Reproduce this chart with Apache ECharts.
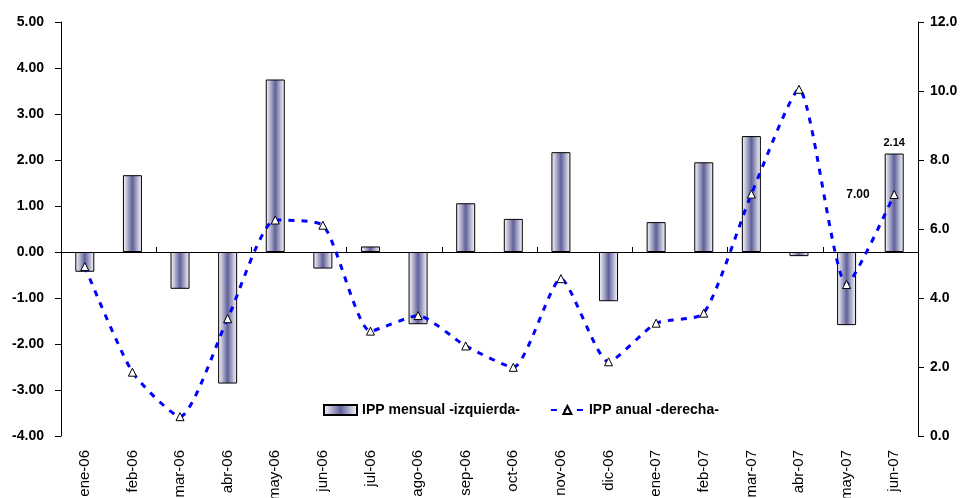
<!DOCTYPE html>
<html><head><meta charset="utf-8">
<script src="https://cdn.jsdelivr.net/npm/echarts@6/dist/echarts.min.js"></script>
<style>html,body{margin:0;padding:0;background:#fff}#c{width:962px;height:498px}</style>
</head><body><div id="c"></div>
<script>
const categories = ['ene-06','feb-06','mar-06','abr-06','may-06','jun-06','jul-06','ago-06','sep-06','oct-06','nov-06','dic-06','ene-07','feb-07','mar-07','abr-07','may-07','jun-07'];
const mensual = [-0.43,1.67,-0.80,-2.86,3.75,-0.36,0.12,-1.57,1.06,0.72,2.17,-1.07,0.65,1.95,2.52,-0.09,-1.59,2.14];
const anual = [4.91,1.85,0.56,3.40,6.26,6.11,3.04,3.49,2.61,1.99,4.56,2.15,3.27,3.56,7.01,10.05,4.39,7.00];
const leftTicks = {min:-4, max:5, interval:1};
const rightTicks = {min:0, max:12, interval:2};

const font = '"Liberation Sans", Arial, sans-serif';
const grad = new echarts.graphic.LinearGradient(0,0,1,0,[
  {offset:0,color:'#ffffff'},{offset:0.5,color:'#60609a'},{offset:1,color:'#ffffff'}]);
const chart = echarts.init(document.getElementById('c'));
const n = categories.length;
chart.setOption({
  animation:false,
  grid:{left:61,right:44,top:22,bottom:62,containLabel:false,outerBoundsMode:'none'},
  legend:{
    left:318, top:398, itemGap:30, itemWidth:33, itemHeight:10,
    textStyle:{fontFamily:font,fontWeight:'bold',fontSize:14,color:'#000'},
    data:[
      {name:'IPP mensual -izquierda-', icon:'rect'},
      {name:'IPP anual -derecha-'}
    ]
  },
  xAxis:[
    {type:'category', data:categories, position:'bottom',
     axisLine:{show:false}, axisTick:{show:false},
     axisLabel:{rotate:90, margin:14, fontFamily:font, fontSize:15, color:'#000'}},
    {type:'category', data:categories, position:'bottom',
     axisLine:{onZero:true, onZeroAxisIndex:0, lineStyle:{color:'#000',width:1}},
     axisTick:{show:true, inside:true, length:5, lineStyle:{color:'#000'}},
     axisLabel:{show:false}}
  ],
  yAxis:[
    {type:'value', min:leftTicks.min, max:leftTicks.max, interval:leftTicks.interval,
     splitLine:{show:false},
     axisLine:{show:true, lineStyle:{color:'#000'}},
     axisTick:{show:true, length:6, lineStyle:{color:'#000'}},
     axisLabel:{formatter:v=>v.toFixed(2), fontFamily:font, fontWeight:'bold', fontSize:14, color:'#000', margin:17}},
    {type:'value', min:rightTicks.min, max:rightTicks.max, interval:rightTicks.interval,
     position:'right', splitLine:{show:false},
     axisLine:{show:true, lineStyle:{color:'#000'}},
     axisTick:{show:true, length:6, lineStyle:{color:'#000'}},
     axisLabel:{formatter:v=>v.toFixed(1), fontFamily:font, fontWeight:'bold', fontSize:14, color:'#000', margin:12}}
  ],
  series:[
    {name:'IPP mensual -izquierda-', type:'bar', xAxisIndex:0, yAxisIndex:0,
     barWidth:19, data:mensual.map((v,i)=>i===n-1?{value:v,label:{show:true,position:'top',distance:5,formatter:p=>p.value.toFixed(2)}}:v),
     itemStyle:{color:grad, borderColor:'#000', borderWidth:1},
     label:{show:false, fontFamily:font, fontWeight:'bold', fontSize:11, color:'#000'}},
    {name:'IPP anual -derecha-', type:'line', xAxisIndex:0, yAxisIndex:1,
     smooth:0.2, symbol:'triangle', symbolSize:8,
     data:anual.map((v,i)=>i===n-1?{value:v,label:{show:true,position:'left',distance:20,formatter:p=>p.value.toFixed(2)}}:v),
     lineStyle:{color:'#0000ff', width:3, type:[6,7]},
     itemStyle:{color:'#ffffff', borderColor:'#000', borderWidth:1},
     label:{show:false, fontFamily:font, fontWeight:'bold', fontSize:12, color:'#000'},
     z:5}
  ]
});
</script></body></html>
